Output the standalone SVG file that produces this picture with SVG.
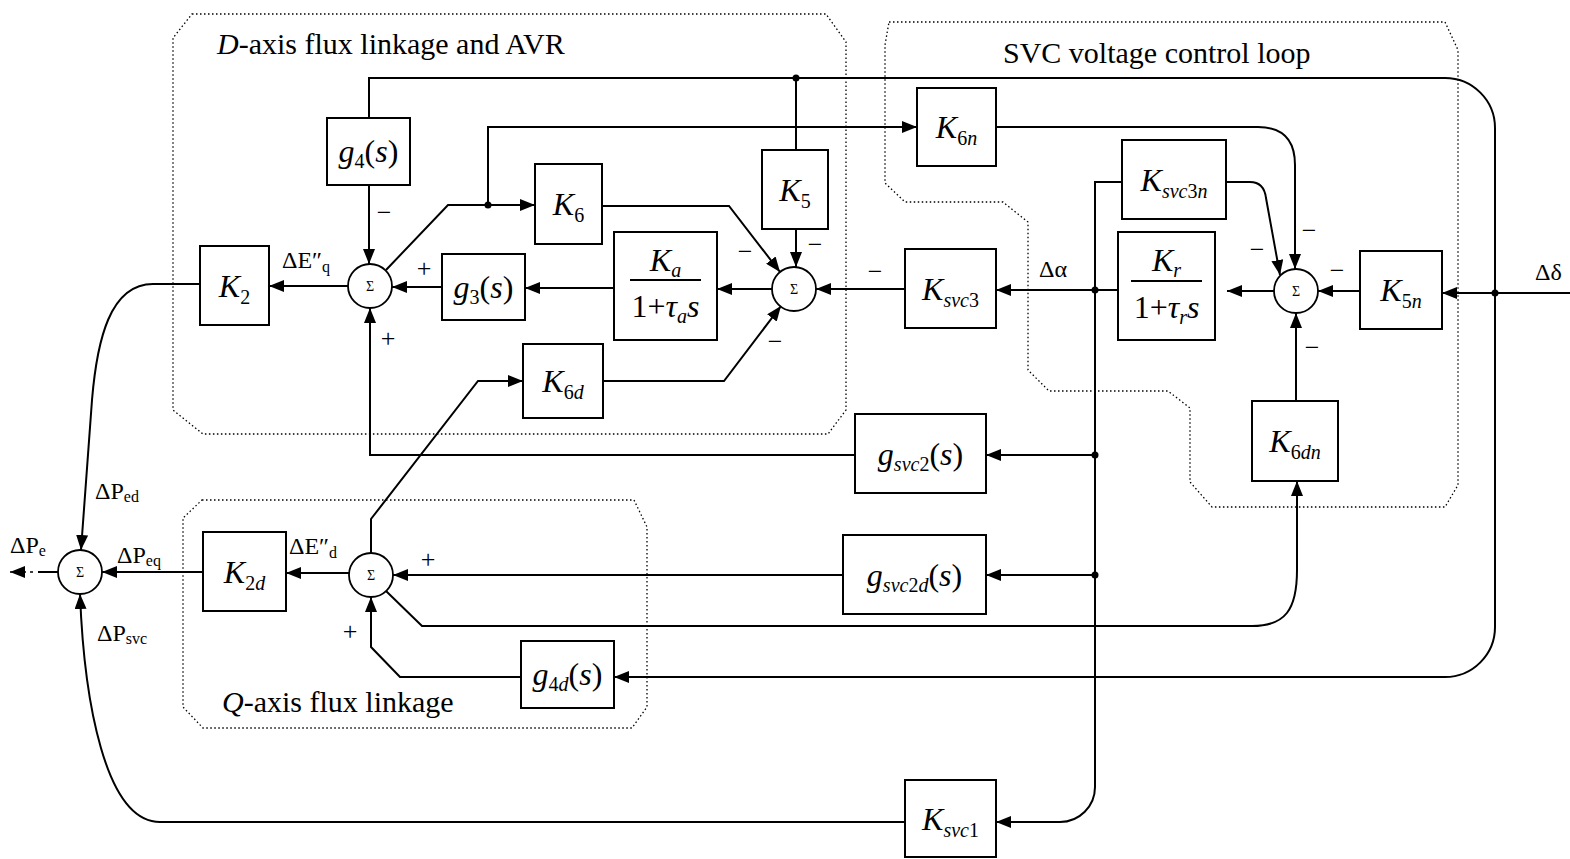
<svg xmlns="http://www.w3.org/2000/svg" width="1570" height="859" viewBox="0 0 1570 859">
<style>
.box{fill:#fff;stroke:#000;stroke-width:2}
.sum{fill:#fff;stroke:#000;stroke-width:1.8}
.w{fill:none;stroke:#000;stroke-width:2}
.wa{fill:none;stroke:#000;stroke-width:2;marker-end:url(#ah)}
.reg{fill:none;stroke:#000;stroke-width:1.3;stroke-dasharray:1.5 2.5}
.dot{fill:#000}
text{font-family:"Liberation Serif","Times New Roman",serif;fill:#000}
.m{font-style:italic;font-size:32px;text-anchor:middle}
.up{font-style:normal}
.sub{font-size:20px}
.sg{font-size:14px;text-anchor:middle}
.lb{font-size:24px}
.ls{font-size:16px}
.sign{font-size:26px;text-anchor:middle}
.title{font-size:30px}
</style>
<defs>
<marker id="ah" viewBox="0 0 15 12" refX="15" refY="6" markerWidth="15" markerHeight="12" orient="auto" markerUnits="userSpaceOnUse">
<path d="M0,0 L15,6 L0,12 Z" fill="#000"/>
</marker>
</defs>

<g id="regions">
<path class="reg" d="M192,14 H826 L846,42 V410 L828,434 H203 L173,410 V38 Z"/>
<path class="reg" d="M889,22 H1445 L1458,50 V485 L1445,507 H1212 L1190,482 V408 L1168,391 H1049 L1028,370 V222 L1003,202 H905 L885,183 V45 Z"/>
<path class="reg" d="M202,500 H634 L647,527 V707 L632,728 H203 L183,707 V518 Z"/>
<text class="title" x="217" y="54"><tspan font-style="italic">D</tspan>-axis flux linkage and AVR</text>
<text class="title" x="1003" y="63">SVC voltage control loop</text>
<text class="title" x="222" y="712"><tspan font-style="italic">Q</tspan>-axis flux linkage</text>
</g>

<g id="connectors">
<path class="wa" d="M369,118 V78 H1445 A50,50 0 0 1 1495,128 V627 A50,50 0 0 1 1445,677 H614"/>
<path class="wa" d="M1570,293 H1442"/>
<circle class="dot" cx="1495" cy="293" r="3.5"/>
<circle class="dot" cx="796" cy="78" r="3.5"/>
<path class="w" d="M796,78 V150"/>
<path class="wa" d="M796,229 V267"/>
<path class="wa" d="M369,185 V264"/>
<path class="wa" d="M348,286 H269"/>
<path class="wa" d="M442,287 H392"/>
<path class="wa" d="M614,288 H525"/>
<path class="wa" d="M772,289 H717"/>
<path class="wa" d="M905,289 H816"/>
<path class="wa" d="M386,270 L448,205 H535"/>
<circle class="dot" cx="488" cy="205" r="3.5"/>
<path class="wa" d="M488,205 V127 H917"/>
<path class="wa" d="M602,206 H729 L780,272"/>
<path class="wa" d="M603,381 H724 L781,306"/>
<path class="wa" d="M371,553 V519 L478,381 H523"/>
<path class="wa" d="M855,455 H370 V308"/>
<path class="wa" d="M843,575 H393"/>
<path class="wa" d="M1118,290 H996"/>
<circle class="dot" cx="1095" cy="290" r="3.5"/>
<path class="wa" d="M1122,182 H1095 V787 A35,35 0 0 1 1060,822 H996"/>
<path class="wa" d="M1095,455 H986"/>
<path class="wa" d="M1095,575 H986"/>
<circle class="dot" cx="1095" cy="455" r="3.5"/>
<circle class="dot" cx="1095" cy="575" r="3.5"/>
<path class="wa" d="M1226,182 H1250 Q1264,182 1266,198 L1280,275"/>
<path class="wa" d="M996,127 H1258 Q1295,127 1295,165 V269"/>
<path class="wa" d="M1360,291 H1318"/>
<path class="wa" d="M1274,291 H1227"/>
<path class="wa" d="M1296,401 V313"/>
<path class="wa" d="M386,591 L422,626 H1252 C1285,626 1297,610 1297,570 V481"/>
<path class="wa" d="M521,677 H400 L371,647 V597"/>
<path class="wa" d="M349,573 H286"/>
<path class="wa" d="M203,572 H102"/>
<path class="wa" d="M200,284 H153 C110,284 97,340 92,400 L81,550"/>
<path class="wa" d="M905,822 H160 C105,822 84,700 80,594"/>
<path class="w" d="M58,572 H38"/>
<path class="wa" d="M33,572 H10" stroke-dasharray="3 4" style="stroke-width:1.5"/>
<text class="sign" x="384" y="221">−</text>
<text class="sign" x="424" y="277">+</text>
<text class="sign" x="388" y="347">+</text>
<text class="sign" x="745" y="260">−</text>
<text class="sign" x="815" y="253">−</text>
<text class="sign" x="875" y="280">−</text>
<text class="sign" x="775" y="350">−</text>
<text class="sign" x="1257" y="258">−</text>
<text class="sign" x="1309" y="239">−</text>
<text class="sign" x="1337" y="279">−</text>
<text class="sign" x="1312" y="356">−</text>
<text class="sign" x="428" y="568">+</text>
<text class="sign" x="350" y="640">+</text>
<text class="lb" x="282" y="268">ΔE″<tspan class="ls" dy="4">q</tspan></text>
<text class="lb" x="289" y="554">ΔE″<tspan class="ls" dy="4">d</tspan></text>
<text class="lb" x="1039" y="277">Δα</text>
<text class="lb" x="1535" y="280">Δδ</text>
<text class="lb" x="95" y="499">ΔP<tspan class="ls" dy="3">ed</tspan></text>
<text class="lb" x="117" y="563">ΔP<tspan class="ls" dy="3">eq</tspan></text>
<text class="lb" x="97" y="641">ΔP<tspan class="ls" dy="3">svc</tspan></text>
<text class="lb" x="10" y="553">ΔP<tspan class="ls" dy="3">e</tspan></text>
</g>

<g id="g4"><rect class="box" x="327" y="118" width="83" height="67"/><text class="m" x="368.5" y="162">g<tspan class="sub up" dy="6">4</tspan><tspan class="up" dy="-6">(</tspan>s<tspan class="up">)</tspan></text></g>
<g id="K2"><rect class="box" x="200" y="246" width="69" height="79"/><text class="m" x="234.5" y="297">K<tspan class="sub up" dy="7">2</tspan></text></g>
<g id="sum1"><circle class="sum" cx="370" cy="286" r="22"/><text class="sg" x="370" y="291">Σ</text></g>
<g id="K6"><rect class="box" x="535" y="164" width="67" height="80"/><text class="m" x="568.5" y="215">K<tspan class="sub up" dy="7">6</tspan></text></g>
<g id="K5"><rect class="box" x="762" y="150" width="66" height="79"/><text class="m" x="795" y="201">K<tspan class="sub up" dy="7">5</tspan></text></g>
<g id="g3"><rect class="box" x="442" y="254" width="83" height="66"/><text class="m" x="483.5" y="298">g<tspan class="sub up" dy="6">3</tspan><tspan class="up" dy="-6">(</tspan>s<tspan class="up">)</tspan></text></g>
<g id="Ka"><rect class="box" x="614" y="232" width="103" height="108"/><text class="m" x="665.5" y="271">K<tspan class="sub" dy="6">a</tspan></text><line x1="630" y1="280" x2="701" y2="280" stroke="#000" stroke-width="2"/><text class="m" x="665.5" y="317"><tspan class="up">1+</tspan>τ<tspan class="sub" dy="6">a</tspan><tspan dy="-6">s</tspan></text></g>
<g id="sum2"><circle class="sum" cx="794" cy="289" r="22"/><text class="sg" x="794" y="294">Σ</text></g>
<g id="K6d"><rect class="box" x="523" y="344" width="80" height="74"/><text class="m" x="563" y="392">K<tspan class="sub" dy="7"><tspan class="up">6</tspan>d</tspan></text></g>
<g id="K6n"><rect class="box" x="917" y="88" width="79" height="78"/><text class="m" x="956.5" y="138">K<tspan class="sub" dy="7"><tspan class="up">6</tspan>n</tspan></text></g>
<g id="Ksvc3n"><rect class="box" x="1122" y="140" width="104" height="79"/><text class="m" x="1174" y="191">K<tspan class="sub" dy="7">svc<tspan class="up">3</tspan>n</tspan></text></g>
<g id="Ksvc3"><rect class="box" x="905" y="249" width="91" height="79"/><text class="m" x="950.5" y="300">K<tspan class="sub" dy="7">svc<tspan class="up">3</tspan></tspan></text></g>
<g id="Kr"><rect class="box" x="1118" y="232" width="97" height="108"/><text class="m" x="1166.5" y="271">K<tspan class="sub" dy="6">r</tspan></text><line x1="1131" y1="281" x2="1202" y2="281" stroke="#000" stroke-width="2"/><text class="m" x="1166.5" y="318"><tspan class="up">1+</tspan>τ<tspan class="sub" dy="6">r</tspan><tspan dy="-6">s</tspan></text></g>
<g id="sum3"><circle class="sum" cx="1296" cy="291" r="22"/><text class="sg" x="1296" y="296">Σ</text></g>
<g id="K5n"><rect class="box" x="1360" y="251" width="82" height="78"/><text class="m" x="1401" y="301">K<tspan class="sub" dy="7"><tspan class="up">5</tspan>n</tspan></text></g>
<g id="K6dn"><rect class="box" x="1252" y="401" width="86" height="80"/><text class="m" x="1295" y="452">K<tspan class="sub" dy="7"><tspan class="up">6</tspan>dn</tspan></text></g>
<g id="gsvc2"><rect class="box" x="855" y="414" width="131" height="79"/><text class="m" x="920.5" y="465">g<tspan class="sub" dy="6">svc<tspan class="up">2</tspan></tspan><tspan class="up" dy="-6">(</tspan>s<tspan class="up">)</tspan></text></g>
<g id="gsvc2d"><rect class="box" x="843" y="535" width="143" height="79"/><text class="m" x="914.5" y="586">g<tspan class="sub" dy="6">svc<tspan class="up">2</tspan>d</tspan><tspan class="up" dy="-6">(</tspan>s<tspan class="up">)</tspan></text></g>
<g id="sum4"><circle class="sum" cx="371" cy="575" r="22"/><text class="sg" x="371" y="580">Σ</text></g>
<g id="K2d"><rect class="box" x="203" y="532" width="83" height="79"/><text class="m" x="244.5" y="583">K<tspan class="sub" dy="7"><tspan class="up">2</tspan>d</tspan></text></g>
<g id="g4d"><rect class="box" x="521" y="641" width="93" height="67"/><text class="m" x="567.5" y="685">g<tspan class="sub" dy="6"><tspan class="up">4</tspan>d</tspan><tspan class="up" dy="-6">(</tspan>s<tspan class="up">)</tspan></text></g>
<g id="sum5"><circle class="sum" cx="80" cy="572" r="22"/><text class="sg" x="80" y="577">Σ</text></g>
<g id="Ksvc1"><rect class="box" x="905" y="780" width="91" height="77"/><text class="m" x="950.5" y="830">K<tspan class="sub" dy="7">svc<tspan class="up">1</tspan></tspan></text></g>
</svg>
